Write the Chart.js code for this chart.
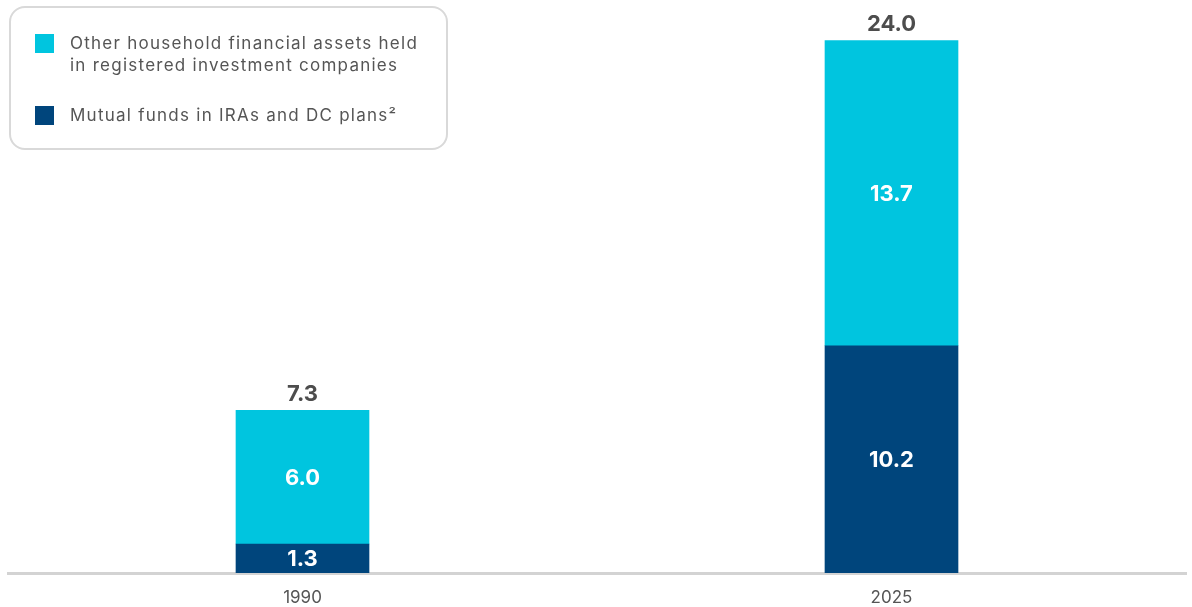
<!DOCTYPE html>
<html lang="en">
  <head>
    <meta charset="UTF-8" />
    <title>Household financial assets in registered investment companies</title>
    <script src="https://cdn.jsdelivr.net/npm/chart.js"></script>
    <style>
      body {
        margin: 0;
        background: #fff;
        font-family: Inter, "Noto Sans", sans-serif;
      }
      .wrap {
        position: relative;
        width: 1192px;
        height: 607px;
      }
      #legend {
        position: absolute;
        left: 9px;
        top: 6px;
        width: 435px;
        height: 140px;
        border: 2px solid #d9d9d9;
        border-radius: 16px;
        box-sizing: content-box;
      }
      .item {
        position: absolute;
        left: 24px;
        display: flex;
        align-items: flex-start;
      }
      .swatch {
        width: 19px;
        height: 19px;
        margin-top: 2px;
        margin-right: 16px;
        flex: none;
      }
      .item span {
        font-size: 17px;
        line-height: 22px;
        letter-spacing: 1.25px;
        color: #555;
      }
    </style>
  </head>
  <body>
    <div class="wrap">
      <canvas id="myChart" width="1192" height="607"></canvas>
      <div id="legend"></div>
    </div>
    <script>
      // data
      const years = ["1990", "2025"];
      const mutualFunds = [1.3, 10.2];
      const otherAssets = [6.0, 13.7];
      const totals = [7.3, 24.0];

      const seriesNames = [
        "Other household financial assets held\nin registered investment companies",
        "Mutual funds in IRAs and DC plans²",
      ];
      const cyan = "#00c5df";
      const navy = "#00457c";

      // labels inside segments + totals on top
      const valueLabels = {
        id: "valueLabels",
        afterDatasetsDraw(chart) {
          const ctx = chart.ctx;
          ctx.save();
          ctx.textAlign = "center";
          ctx.font = "bold 22px Inter, 'Noto Sans', sans-serif";
          chart.data.datasets.forEach((ds, di) => {
            chart.getDatasetMeta(di).data.forEach((bar, i) => {
              const mid = (bar.y + bar.base) / 2;
              ctx.fillStyle = "#fff";
              ctx.textBaseline = "middle";
              ctx.fillText(ds.data[i].toFixed(1), bar.x, mid + 1);
            });
          });
          const top = chart.getDatasetMeta(chart.data.datasets.length - 1).data;
          top.forEach((bar, i) => {
            ctx.fillStyle = "#4d4d4d";
            ctx.textBaseline = "bottom";
            ctx.fillText(totals[i].toFixed(1), bar.x, bar.y - 5);
          });
          ctx.restore();
        },
      };

      const ctx = document.getElementById("myChart").getContext("2d");
      const myChart = new Chart(ctx, {
        type: "bar",
        data: {
          labels: years,
          datasets: [
            {
              label: seriesNames[1],
              data: mutualFunds,
              backgroundColor: navy,
            },
            {
              label: seriesNames[0],
              data: otherAssets,
              backgroundColor: cyan,
            },
          ],
        },
        options: {
          responsive: false,
          animation: false,
          layout: { padding: { top: 16, left: 8, right: 6, bottom: 0 } },
          datasets: { bar: { barThickness: 133 } },
          scales: {
            x: {
              stacked: true,
              grid: { display: false },
              border: { display: true, color: "#d3d3d3", width: 3 },
              ticks: {
                color: "#555",
                font: { family: "Inter, 'Noto Sans', sans-serif", size: 17 },
                padding: 7,
              },
              afterFit(scale) {
                scale.height = 34;
              },
            },
            y: {
              stacked: true,
              display: false,
              min: 0,
              max: 25,
            },
          },
          plugins: {
            legend: { display: false },
            tooltip: { enabled: false },
          },
        },
        plugins: [valueLabels],
      });

      // html legend, top entry first
      const legend = document.getElementById("legend");
      [
        { name: seriesNames[0], color: cyan, top: 24 },
        { name: seriesNames[1], color: navy, top: 96 },
      ].forEach((s) => {
        const row = document.createElement("div");
        row.className = "item";
        row.style.top = s.top + "px";
        const sw = document.createElement("div");
        sw.className = "swatch";
        sw.style.background = s.color;
        const txt = document.createElement("span");
        txt.innerHTML = s.name.replace("\n", "<br>");
        row.appendChild(sw);
        row.appendChild(txt);
        legend.appendChild(row);
      });
    </script>
  </body>
</html>
